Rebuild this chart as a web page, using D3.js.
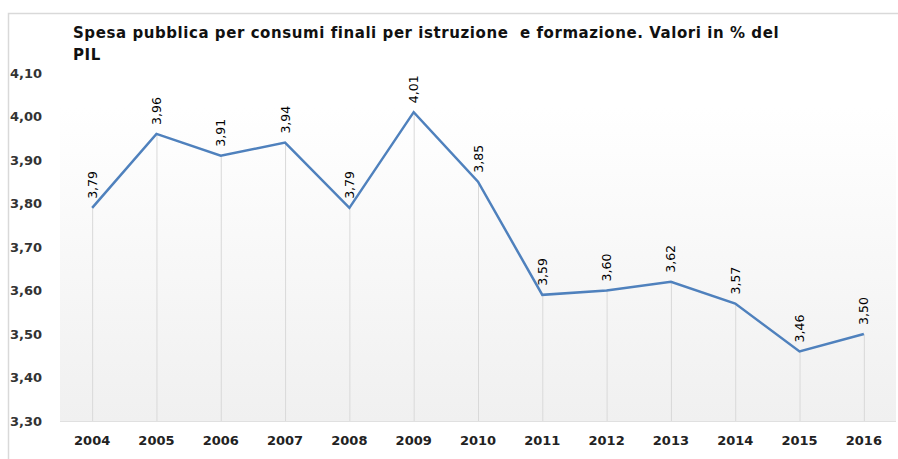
<!DOCTYPE html>
<html>
<head>
<meta charset="utf-8">
<script src="https://cdn.jsdelivr.net/npm/d3@7"></script>
<style>
  body { margin: 0; background: #fff; }
  svg { display: block; font-family: "DejaVu Sans", Verdana, sans-serif; }
</style>
</head>
<body>
<svg id="chart" width="898" height="459"></svg>
<script>
// Data
const years = ["2004", "2005", "2006", "2007", "2008", "2009", "2010", "2011", "2012", "2013", "2014", "2015", "2016"];
const values = [3.79, 3.96, 3.91, 3.94, 3.79, 4.01, 3.85, 3.59, 3.60, 3.62, 3.57, 3.46, 3.50];
const yTicks = [3.30, 3.40, 3.50, 3.60, 3.70, 3.80, 3.90, 4.00, 4.10];
const titleLines = ["Spesa pubblica per consumi finali per istruzione  e formazione. Valori in % del", "PIL"];

const svg = d3.select("#chart");
const plot = { left: 60, right: 896, top: 73, bottom: 421 };
const fmt = v => v.toFixed(2).replace(".", ",");

// Frame border
svg.append("path")
    .attr("d", `M8.5,459 V13.5 H898`)
    .attr("fill", "none")
    .attr("stroke", "#d9d9d9")
    .attr("stroke-width", 1.5);

// Plot background gradient
const grad = svg.append("defs").append("linearGradient")
    .attr("id", "bg")
    .attr("x1", 0).attr("y1", 0).attr("x2", 0).attr("y2", 1);
grad.append("stop").attr("offset", "0%").attr("stop-color", "#ffffff");
grad.append("stop").attr("offset", "10%").attr("stop-color", "#ffffff");
grad.append("stop").attr("offset", "100%").attr("stop-color", "#f0f0f0");

svg.append("rect")
    .attr("x", plot.left)
    .attr("y", plot.top)
    .attr("width", plot.right - plot.left)
    .attr("height", plot.bottom - plot.top)
    .attr("fill", "url(#bg)");

// Scales
const x = d3.scalePoint()
    .domain(years)
    .range([plot.left, plot.right])
    .padding(0.5);

const y = d3.scaleLinear()
    .domain([3.30, 4.10])
    .range([plot.bottom, plot.top]);

// Bottom axis line
svg.append("line")
    .attr("x1", plot.left).attr("x2", plot.right)
    .attr("y1", plot.bottom + 0.5).attr("y2", plot.bottom + 0.5)
    .attr("stroke", "#e0e0e0");

// Drop lines
svg.selectAll(".drop")
    .data(values)
    .join("line")
    .attr("class", "drop")
    .attr("x1", (d, i) => x(years[i]) + 0.5)
    .attr("x2", (d, i) => x(years[i]) + 0.5)
    .attr("y1", d => y(d))
    .attr("y2", plot.bottom)
    .attr("stroke", "#d9d9d9")
    .attr("stroke-width", 1);

// Y tick labels
svg.selectAll(".ytick")
    .data(yTicks)
    .join("text")
    .attr("class", "ytick")
    .attr("x", 10)
    .attr("y", d => y(d))
    .attr("dy", "0.35em")
    .style("font-size", "13px")
    .style("font-weight", "bold")
    .attr("fill", "#333")
    .text(d => fmt(d));

// X tick labels
svg.selectAll(".xtick")
    .data(years)
    .join("text")
    .attr("class", "xtick")
    .attr("x", d => x(d))
    .attr("y", 445)
    .attr("text-anchor", "middle")
    .style("font-size", "13px")
    .style("font-weight", "bold")
    .attr("fill", "#222")
    .text(d => d);

// Line
const line = d3.line()
    .x((d, i) => x(years[i]))
    .y(d => y(d));

svg.append("path")
    .datum(values)
    .attr("d", line)
    .attr("fill", "none")
    .attr("stroke", "#4f81bd")
    .attr("stroke-width", 2.5)
    .attr("stroke-linejoin", "miter");

// Data labels (rotated)
svg.selectAll(".lbl")
    .data(values)
    .join("text")
    .attr("class", "lbl")
    .attr("transform", (d, i) => `translate(${x(years[i]) + 4.5}, ${y(d) - 9}) rotate(-90)`)
    .style("font-size", "12.5px")
    .attr("fill", "#000")
    .text(d => fmt(d));

// Title, letter-spaced so the first line spans the same width as the original
const title = svg.selectAll(".title")
    .data(titleLines)
    .join("text")
    .attr("class", "title")
    .attr("x", 73)
    .attr("y", (d, i) => 38 + i * 22)
    .style("font-size", "15px")
    .style("font-weight", "bold")
    .attr("fill", "#111")
    .attr("xml:space", "preserve")
    .style("white-space", "pre")
    .text(d => d);

const firstW = title.node().getComputedTextLength();
const spacing = (705 - firstW) / (titleLines[0].length - 1);
title.style("letter-spacing", `${spacing}px`);
</script>
</body>
</html>
